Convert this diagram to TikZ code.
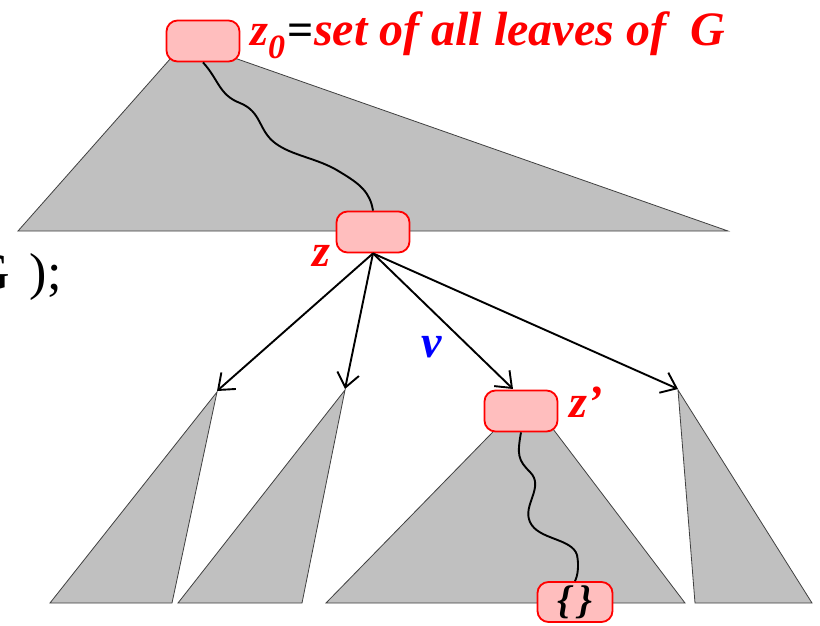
\documentclass[tikz,border=0pt]{standalone}
\usepackage{fontspec}
\setmainfont{Liberation Serif}
\usetikzlibrary{arrows.meta}
\definecolor{boxfill}{RGB}{255,190,190}
\definecolor{trigray}{RGB}{192,192,192}
\definecolor{labred}{RGB}{255,0,0}
\definecolor{labblue}{RGB}{0,0,255}
\tikzset{
  tri/.style={fill=trigray, draw=black!75, line width=0.8pt, line join=miter},
  setbox/.style={draw=labred, fill=boxfill, line width=1.8pt, rounded corners=11pt, minimum width=73pt, minimum height=41pt, inner sep=0pt},
  wavy/.style={draw=black, line width=1.9pt},
  edge/.style={draw=black, line width=1.9pt, -{Straight Barb[length=14pt,width=22pt,line width=1.9pt]}},
  lab/.style={font=\fontsize{46}{46}\selectfont\bfseries\itshape, inner sep=0pt, anchor=base west},
}
\begin{document}
\begin{tikzpicture}[x=1pt,y=-1pt]
\useasboundingbox (0,0) rectangle (820,626);
\clip (0,0) rectangle (820,626);
% triangles
\draw[tri] (18,231) -- (186,41) -- (728,231) -- cycle;
\draw[tri] (217,392) -- (50,603) -- (172,603) -- cycle;
\draw[tri] (345,390) -- (178,603) -- (302,603) -- cycle;
\draw[tri] (528,396) -- (326,603) -- (685,603) -- cycle;
\draw[tri] (678,390) -- (695,603) -- (812,603) -- cycle;
\coordinate (t1) at (217,391);
\coordinate (t2) at (345,389);
\coordinate (t3) at (513,389);
\coordinate (t4) at (678,389);
% boxes
\node[setbox] (z0) at (203,41) {};
\node[setbox] (z) at (373,232) {};
\node[setbox] (zp) at (521,411) {};
\node[setbox, minimum width=75pt, minimum height=40pt] (leaf) at (575,602) {\fontsize{40}{40}\selectfont\bfseries\itshape\{\,\}};
% wavy paths
\draw[wavy] (z0.south) .. controls (219,80) and (219,95) .. (240,103)
  .. controls (262,112) and (258,130) .. (275,143)
  .. controls (292,156) and (318,158) .. (340,172)
  .. controls (360,184) and (370,192) .. (z.north);
\draw[wavy] (zp.south) .. controls (517,455) and (518,460) .. (530,472)
  .. controls (545,487) and (522,505) .. (530,522)
  .. controls (538,540) and (572,538) .. (577,555)
  .. controls (579,565) and (578,575) .. (leaf.north);
% arrows
\draw[edge] (z.south) -- (t1);
\draw[edge] (z.south) -- (t2);
\draw[edge] (z.south) -- (t3);
\draw[edge] (z.south) -- (t4);
% labels
\node[lab, text=labred] (l0) at (250,46) {z\raisebox{-13pt}{\fontsize{34}{34}\selectfont 0}\hspace{2pt}\textcolor{black}{\upshape=}\hspace{1pt}{\fontsize{48}{48}\selectfont set of all leaves of~ G}};
\node[lab, text=labred] (lz) at (312,266) {z};
\node[lab, text=labblue] (lv) at (421,357) {v};
\node[lab, text=labred] (lzp) at (569,417) {z’};
\node[anchor=base west, inner sep=0pt, font=\fontsize{52}{52}\selectfont] (lg) at (-28,289) {G \hspace{7pt});};
\end{tikzpicture}
\end{document}
